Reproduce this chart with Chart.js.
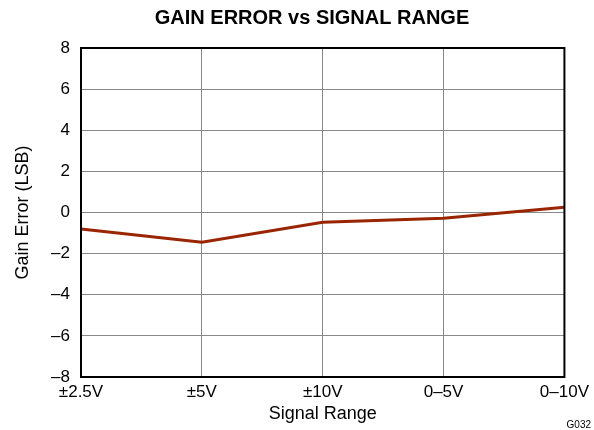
<!DOCTYPE html>
<html>
<head>
<meta charset="utf-8">
<script src="https://cdn.jsdelivr.net/npm/chart.js@4.4.0/dist/chart.umd.min.js"></script>
<style>
  html, body { margin: 0; padding: 0; background: #fff; }
  #wrap { width: 594px; height: 430px; }
</style>
</head>
<body>
<div id="wrap"><canvas id="gainChart" width="594" height="430"></canvas></div>
<script>
// データ
const signalRanges = ["±2.5V", "±5V", "±10V", "0–5V", "0–10V"];
const gainError = [-0.8, -1.45, -0.48, -0.28, 0.25];
const yMin = -8;
const yMax = 8;
const yStep = 2;
const chartTitle = "GAIN ERROR vs SIGNAL RANGE";
const figureId = "G032";

Chart.defaults.font.family = "'Liberation Sans', Arial, sans-serif";
Chart.defaults.color = "#000";

// タイトル・枠線・図番号
const framePlugin = {
  id: "frame",
  afterDraw(chart) {
    const { ctx, chartArea } = chart;
    ctx.save();
    ctx.strokeStyle = "#000";
    ctx.lineWidth = 2;
    ctx.strokeRect(chartArea.left, chartArea.top, chartArea.right - chartArea.left, chartArea.bottom - chartArea.top);

    ctx.fillStyle = "#000";
    ctx.textAlign = "center";
    ctx.textBaseline = "middle";
    ctx.font = "bold 20px 'Liberation Sans', Arial, sans-serif";
    ctx.fillText(chartTitle, 312, 18);

    ctx.font = "10px 'Liberation Sans', Arial, sans-serif";
    ctx.textAlign = "right";
    ctx.fillText(figureId, 591, 425);
    ctx.restore();
  }
};

const ctx = document.getElementById("gainChart").getContext("2d");
new Chart(ctx, {
  type: "line",
  data: {
    labels: signalRanges,
    datasets: [{
      data: gainError,
      borderColor: "#992600",
      borderWidth: 3,
      pointRadius: 0,
      tension: 0,
      fill: false
    }]
  },
  options: {
    responsive: false,
    animation: false,
    layout: { padding: { left: 0, right: 28, top: 48, bottom: 0 } },
    plugins: {
      legend: { display: false },
      tooltip: { enabled: false },
      title: { display: false }
    },
    scales: {
      x: {
        offset: false,
        grid: { color: "#888", lineWidth: 1, drawTicks: false },
        border: { display: false },
        ticks: { font: { size: 17 }, padding: 5, maxRotation: 0, autoSkip: false },
        title: { display: true, text: "Signal Range", font: { size: 18 }, padding: { top: 0, bottom: 5 } },
        afterFit(scale) { scale.height = 53; }
      },
      y: {
        min: yMin,
        max: yMax,
        grid: { color: "#888", lineWidth: 1, drawTicks: false },
        border: { display: false },
        ticks: {
          stepSize: yStep,
          font: { size: 17 },
          padding: 11,
          callback: v => String(v).replace("-", "–")
        },
        title: { display: true, text: "Gain Error (LSB)", font: { size: 18 }, padding: { top: 12, bottom: 0 } },
        afterFit(scale) { scale.width = 81; }
      }
    }
  },
  plugins: [framePlugin]
});
</script>
</body>
</html>
